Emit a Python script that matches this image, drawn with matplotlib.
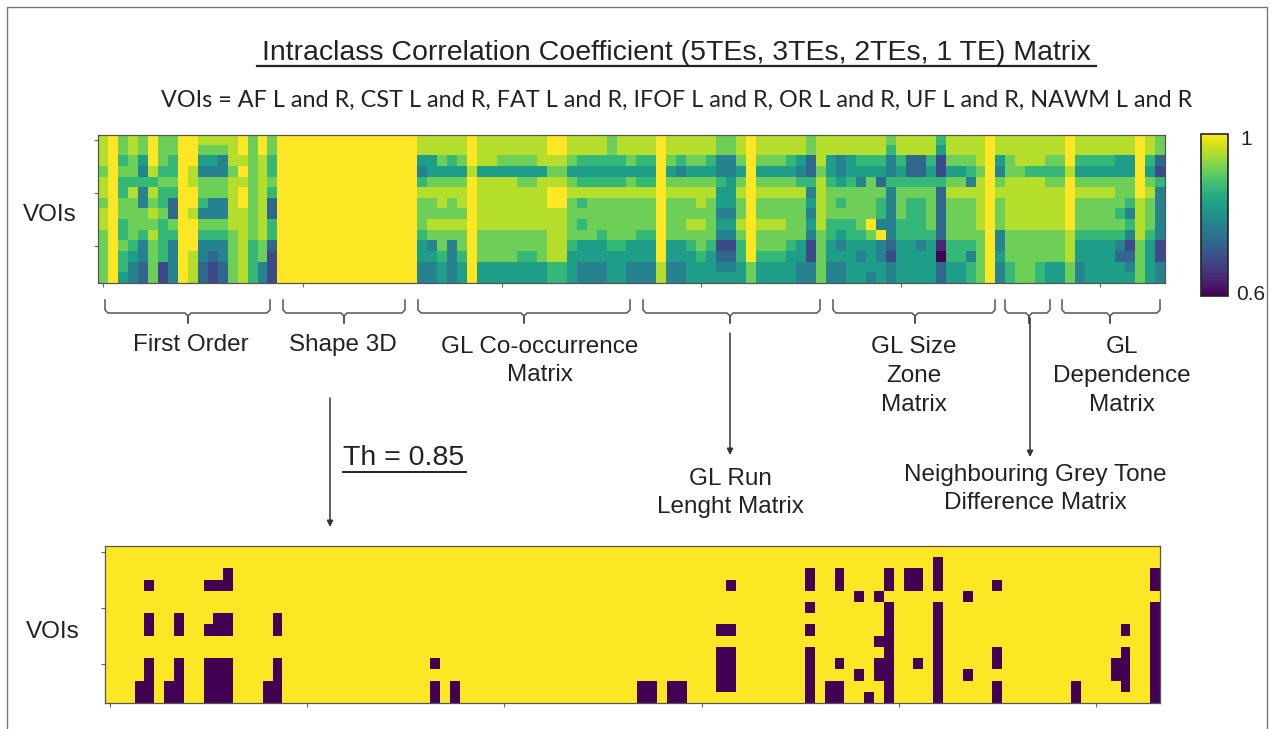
import numpy as np
import matplotlib
matplotlib.use('Agg')
import matplotlib.pyplot as plt
from matplotlib.colors import ListedColormap

W, H = 1274, 729
TH = 0.85

# ICC level per feature column, one digit per VOI (top -> bottom)
# digit d  ->  ICC = 0.6 + 0.4 * d / 9
first_order = ["88878878877777", "99999999999999", "77676677667665", "88776877776544",
               "77546447764433", "99986878787777", "77767667666622", "77667633764444",
               "99999999999999", "99988998999888", "87547764764433", "87547744764322",
               "87447744764433", "88878888877777", "99898998888888", "77777777776666",
               "99888888887744", "77667633663222"]
shape_3d = ["99999999999999"] * 14
glcm = ["88546877765544", "88557877874544", "88757887877655", "88657877874444",
        "88757887877655", "99989999999999", "88858888877755", "88858888877755",
        "88758888877755", "88758888877755", "88757888877655", "88757888877655",
        "88858888877755", "99878998888866", "99878998888866", "88757877776555",
        "88656867675544", "88656877775544", "88656877765544", "77656877776555",
        "88656877776555", "88757877775544", "88656877765544", "88656877765544"]
glrlm = ["99999999999988", "88757877775544", "88647877775544", "88757877876555",
         "88757887877655", "88657877776555", "77446554542345", "77445554542345",
         "88757877876655", "99999999999977", "88757877877655", "88757877877655",
         "88757877877655", "88657877776555", "88546877775544", "77336454542244"]
glszm = ["88878888877777", "88556777665544", "88445767654544", "88556777665555",
         "88654777765455", "88657777975554", "88653766494455", "76446444443244",
         "88656777665555", "88336766665555", "88336766664555", "88656777765555",
         "65226333331033", "88757877776655", "88757877776655", "88764877776466"]
ngtdm = ["88878888877777", "99999999999999", "88547877744544", "88778888877766",
         "88878888877777"]
gldm = ["88868888877777", "88868888877766", "88767888877755", "88767888877755",
        "99989999988877", "88657877765544", "88657877765555", "88657877765555",
        "88657877765555", "88557776764355", "88557764642345", "99999988887777",
        "88657877765555", "77326444442244"]

# feature columns with ICC below the threshold, per VOI row
below_th = [
    [],
    [84],
    [12, 71, 74, 79, 81, 82, 84, 106],
    [4, 10, 11, 12, 63, 71, 74, 79, 81, 82, 84, 90, 106],
    [76, 78, 87],
    [71, 79, 84, 106],
    [4, 7, 11, 12, 17, 79, 84, 106],
    [4, 7, 10, 11, 12, 17, 62, 63, 71, 79, 84, 103, 106],
    [78, 79, 84, 106],
    [62, 63, 71, 79, 84, 90, 103, 106],
    [4, 7, 10, 11, 12, 17, 33, 62, 63, 71, 74, 78, 79, 82, 84, 90, 102, 103, 106],
    [4, 7, 10, 11, 12, 17, 62, 63, 71, 76, 78, 79, 84, 87, 102, 103, 106],
    [3, 4, 6, 7, 10, 11, 12, 16, 17, 33, 35, 54, 55, 57, 58, 62, 63, 71, 73, 74, 79,
     84, 90, 98, 103, 106],
    [3, 4, 6, 7, 10, 11, 12, 16, 17, 33, 35, 54, 55, 57, 58, 71, 73, 74, 77, 79, 84,
     90, 98, 106],
]

cols = first_order + shape_3d + glcm + glrlm + glszm + ngtdm + gldm
icc = np.array([[int(ch) for ch in c] for c in cols], dtype=float).T
icc = 0.6 + 0.4 * icc / 9
mask = np.zeros(icc.shape)
for r, cs in enumerate(below_th):
    mask[r, cs] = 1


def box(x0, y0, x1, y1):
    # pixel box (top-left origin) -> figure fraction rect
    return [x0 / W, 1 - y1 / H, (x1 - x0) / W, (y1 - y0) / H]


def heat_axes(ax):
    ax.set_xticks(np.arange(0, 107, 20))
    ax.set_yticks([0, 5, 10])
    ax.set_xticklabels([])
    ax.set_yticklabels([])
    ax.tick_params(length=3, width=0.8, color='#666666')
    for s in ax.spines.values():
        s.set_color('#555555')
        s.set_linewidth(0.9)


fig = plt.figure(figsize=(W / 100, H / 100), dpi=100)
plt.rcParams['font.family'] = ['Liberation Sans', 'DejaVu Sans']

# overlay in pixel coords for text, brackets and arrows
ov = fig.add_axes([0, 0, 1, 1])
ov.set_xlim(0, W)
ov.set_ylim(H, 0)
ov.axis('off')
ov.add_patch(plt.Rectangle((7, 7), 1260, 760, fill=False, ec='#777777', lw=1))

ax1 = fig.add_axes(box(98.3, 134.7, 1164.8, 283.1))
im = ax1.imshow(icc, cmap='viridis', vmin=0.6, vmax=1, aspect='auto',
                interpolation='nearest')
heat_axes(ax1)

ax2 = fig.add_axes(box(105, 546, 1160, 702.8))
ax2.imshow(mask, cmap=ListedColormap(['#fde725', '#440154']), vmin=0, vmax=1,
           aspect='auto', interpolation='nearest')
heat_axes(ax2)

cax = fig.add_axes(box(1200.5, 134, 1227.5, 296))
cb = fig.colorbar(im, cax=cax, ticks=[])
cb.outline.set_edgecolor('#222222')
cb.outline.set_linewidth(1.2)

txt = dict(color='#222222', ha='center', va='center')
ov.text(1240, 139, '1', fontsize=15, color='#222222', ha='left', va='center')
ov.text(1236, 294, '0.6', fontsize=15, color='#222222', ha='left', va='center')

ov.text(676, 60, 'Intraclass Correlation Coefficient (5TEs, 3TEs, 2TEs, 1 TE) Matrix',
        fontsize=20.5, color='#222222', ha='center', va='baseline')
ov.plot([257, 1096], [65.5, 65.5], color='#222222', lw=1.6)
ov.text(677, 100, 'VOIs = AF L and R, CST L and R, FAT L and R, IFOF L and R, '
        'OR L and R, UF L and R, NAWM L and R', fontsize=16.8,
        family=['Lato', 'DejaVu Sans'], **txt)

ov.text(50, 215, 'VOIs', fontsize=17.5, **txt)
ov.text(53, 632, 'VOIs', fontsize=17.5, **txt)

# feature-class brackets: (left, right, centre)
brackets = [(105, 270, 188), (283, 405, 344), (418, 630, 524), (643, 820, 730),
            (833, 995, 915), (1005, 1050, 1029), (1062, 1160, 1110)]
for x0, x1, xc in brackets:
    xs = [x0, x0, x0 + 3, xc - 3, xc, xc, xc, xc + 3, x1 - 3, x1, x1]
    ys = [300, 310, 313, 313, 316, 323, 316, 313, 313, 310, 300]
    ov.plot(xs, ys, color='#555555', lw=1.1)

ov.text(191, 345, 'First Order', fontsize=17.5, **txt)
ov.text(343, 345, 'Shape 3D', fontsize=17.5, **txt)
ov.text(540, 361, 'GL Co-occurrence\nMatrix', fontsize=17.5, linespacing=1.4, **txt)
ov.text(914, 376, 'GL Size\nZone\nMatrix', fontsize=17.5, linespacing=1.4, **txt)
ov.text(1122, 376, 'GL\nDependence\nMatrix', fontsize=17.5, linespacing=1.4, **txt)
ov.text(730, 493, 'GL Run\nLenght Matrix', fontsize=17.5, linespacing=1.4, **txt)
ov.text(1035, 489, 'Neighbouring Grey Tone\nDifference Matrix', fontsize=17.5,
        linespacing=1.4, **txt)

arr = dict(arrowstyle='-|>', color='#333333', lw=1.1, mutation_scale=9,
           shrinkA=0, shrinkB=0)
ov.annotate('', xy=(330, 527), xytext=(330, 398), arrowprops=arr)
ov.annotate('', xy=(730, 455), xytext=(730, 333), arrowprops=arr)
ov.annotate('', xy=(1030, 457), xytext=(1030, 318), arrowprops=arr)

ov.text(404, 458, 'Th = 0.85', fontsize=20.5, **txt)
ov.plot([343, 466], [472, 472], color='#222222', lw=1.4)

fig.savefig('out.png', dpi=100)
